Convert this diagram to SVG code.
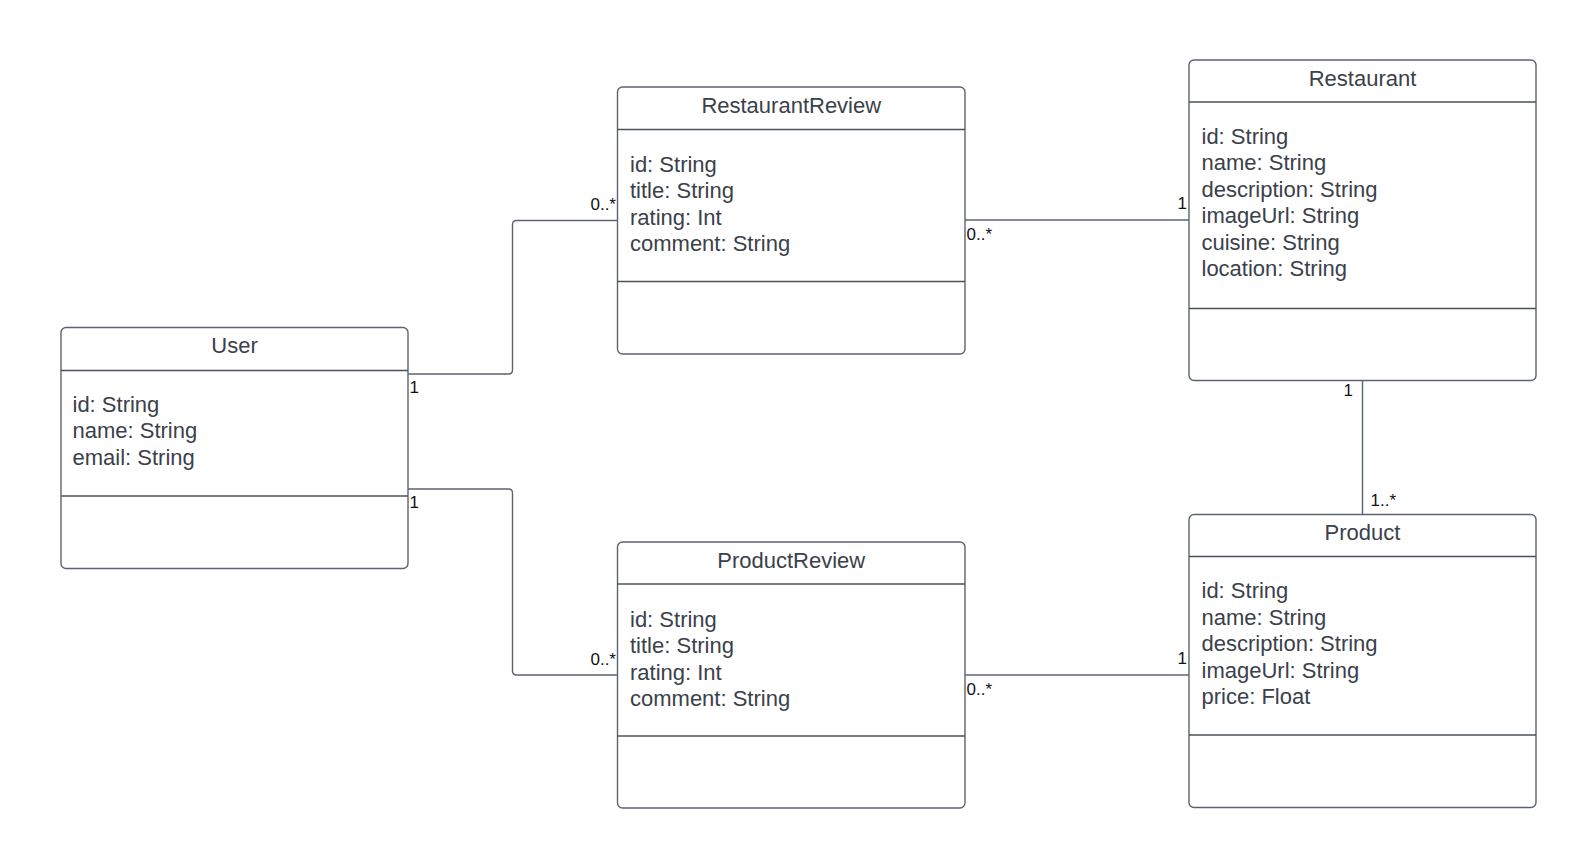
<svg xmlns="http://www.w3.org/2000/svg" width="1596" height="861" viewBox="0 0 1596 861">
<style>
.box{fill:#ffffff;stroke:#5c6370;stroke-width:1.4}
.sep{stroke:#4a505a;stroke-width:1.4}
.title{font-family:"Liberation Sans",Arial,sans-serif;font-size:22px;fill:#3a414a;text-anchor:middle}
.attr{font-family:"Liberation Sans",Arial,sans-serif;font-size:22px;fill:#3a414a}
.conn{fill:none;stroke:#5c6370;stroke-width:1.4}
.lbl{font-family:"Liberation Sans",Arial,sans-serif;font-size:17px;fill:#111111}
.end{text-anchor:end}
</style>
<rect width="1596" height="861" fill="#ffffff"/>
<g id="connectors">
<path class="conn" d="M408,374 H508.5 Q512.5,374 512.5,370 V224.5 Q512.5,220.5 516.5,220.5 H617.5"/>
<path class="conn" d="M408,489 H508.5 Q512.5,489 512.5,493 V671 Q512.5,675 516.5,675 H617.5"/>
<path class="conn" d="M965,220 H1189"/>
<path class="conn" d="M965,675 H1189"/>
<path class="conn" d="M1362.5,380.5 V514.5"/>
<text class="lbl" x="409.5" y="393">1</text>
<text class="lbl end" x="616" y="209.5">0..*</text>
<text class="lbl" x="409.5" y="507.5">1</text>
<text class="lbl end" x="616" y="664.5">0..*</text>
<text class="lbl" x="966.5" y="239.5">0..*</text>
<text class="lbl end" x="1187" y="208.5">1</text>
<text class="lbl" x="966.5" y="694.5">0..*</text>
<text class="lbl end" x="1187" y="664">1</text>
<text class="lbl end" x="1353" y="396">1</text>
<text class="lbl" x="1370.5" y="506">1..*</text>
</g>
<g id="User">
<rect class="box" x="61" y="327.5" width="347" height="241" rx="5"/>
<line class="sep" x1="61" y1="370.5" x2="408" y2="370.5"/>
<line class="sep" x1="61" y1="496" x2="408" y2="496"/>
<text class="title" x="234.5" y="353">User</text>
<text class="attr" x="72.5" y="411.5">id: String</text>
<text class="attr" x="72.5" y="438">name: String</text>
<text class="attr" x="72.5" y="464.5">email: String</text>
</g>
<g id="RestaurantReview">
<rect class="box" x="617.5" y="87" width="347.5" height="267" rx="5"/>
<line class="sep" x1="617.5" y1="129.5" x2="965" y2="129.5"/>
<line class="sep" x1="617.5" y1="281.5" x2="965" y2="281.5"/>
<text class="title" x="791.25" y="113">RestaurantReview</text>
<text class="attr" x="630" y="171.5">id: String</text>
<text class="attr" x="630" y="198">title: String</text>
<text class="attr" x="630" y="224.5">rating: Int</text>
<text class="attr" x="630" y="251">comment: String</text>
</g>
<g id="Restaurant">
<rect class="box" x="1189" y="60" width="347" height="320.5" rx="5"/>
<line class="sep" x1="1189" y1="102" x2="1536" y2="102"/>
<line class="sep" x1="1189" y1="308.5" x2="1536" y2="308.5"/>
<text class="title" x="1362.5" y="85.5">Restaurant</text>
<text class="attr" x="1201.5" y="143.5">id: String</text>
<text class="attr" x="1201.5" y="170">name: String</text>
<text class="attr" x="1201.5" y="196.5">description: String</text>
<text class="attr" x="1201.5" y="223">imageUrl: String</text>
<text class="attr" x="1201.5" y="249.5">cuisine: String</text>
<text class="attr" x="1201.5" y="276">location: String</text>
</g>
<g id="ProductReview">
<rect class="box" x="617.5" y="542" width="347.5" height="266" rx="5"/>
<line class="sep" x1="617.5" y1="584" x2="965" y2="584"/>
<line class="sep" x1="617.5" y1="736" x2="965" y2="736"/>
<text class="title" x="791.25" y="567.5">ProductReview</text>
<text class="attr" x="630" y="626.5">id: String</text>
<text class="attr" x="630" y="653">title: String</text>
<text class="attr" x="630" y="679.5">rating: Int</text>
<text class="attr" x="630" y="706">comment: String</text>
</g>
<g id="Product">
<rect class="box" x="1189" y="514.5" width="347" height="293" rx="5"/>
<line class="sep" x1="1189" y1="556.5" x2="1536" y2="556.5"/>
<line class="sep" x1="1189" y1="735" x2="1536" y2="735"/>
<text class="title" x="1362.5" y="540">Product</text>
<text class="attr" x="1201.5" y="598">id: String</text>
<text class="attr" x="1201.5" y="624.5">name: String</text>
<text class="attr" x="1201.5" y="651">description: String</text>
<text class="attr" x="1201.5" y="677.5">imageUrl: String</text>
<text class="attr" x="1201.5" y="704">price: Float</text>
</g>
</svg>
